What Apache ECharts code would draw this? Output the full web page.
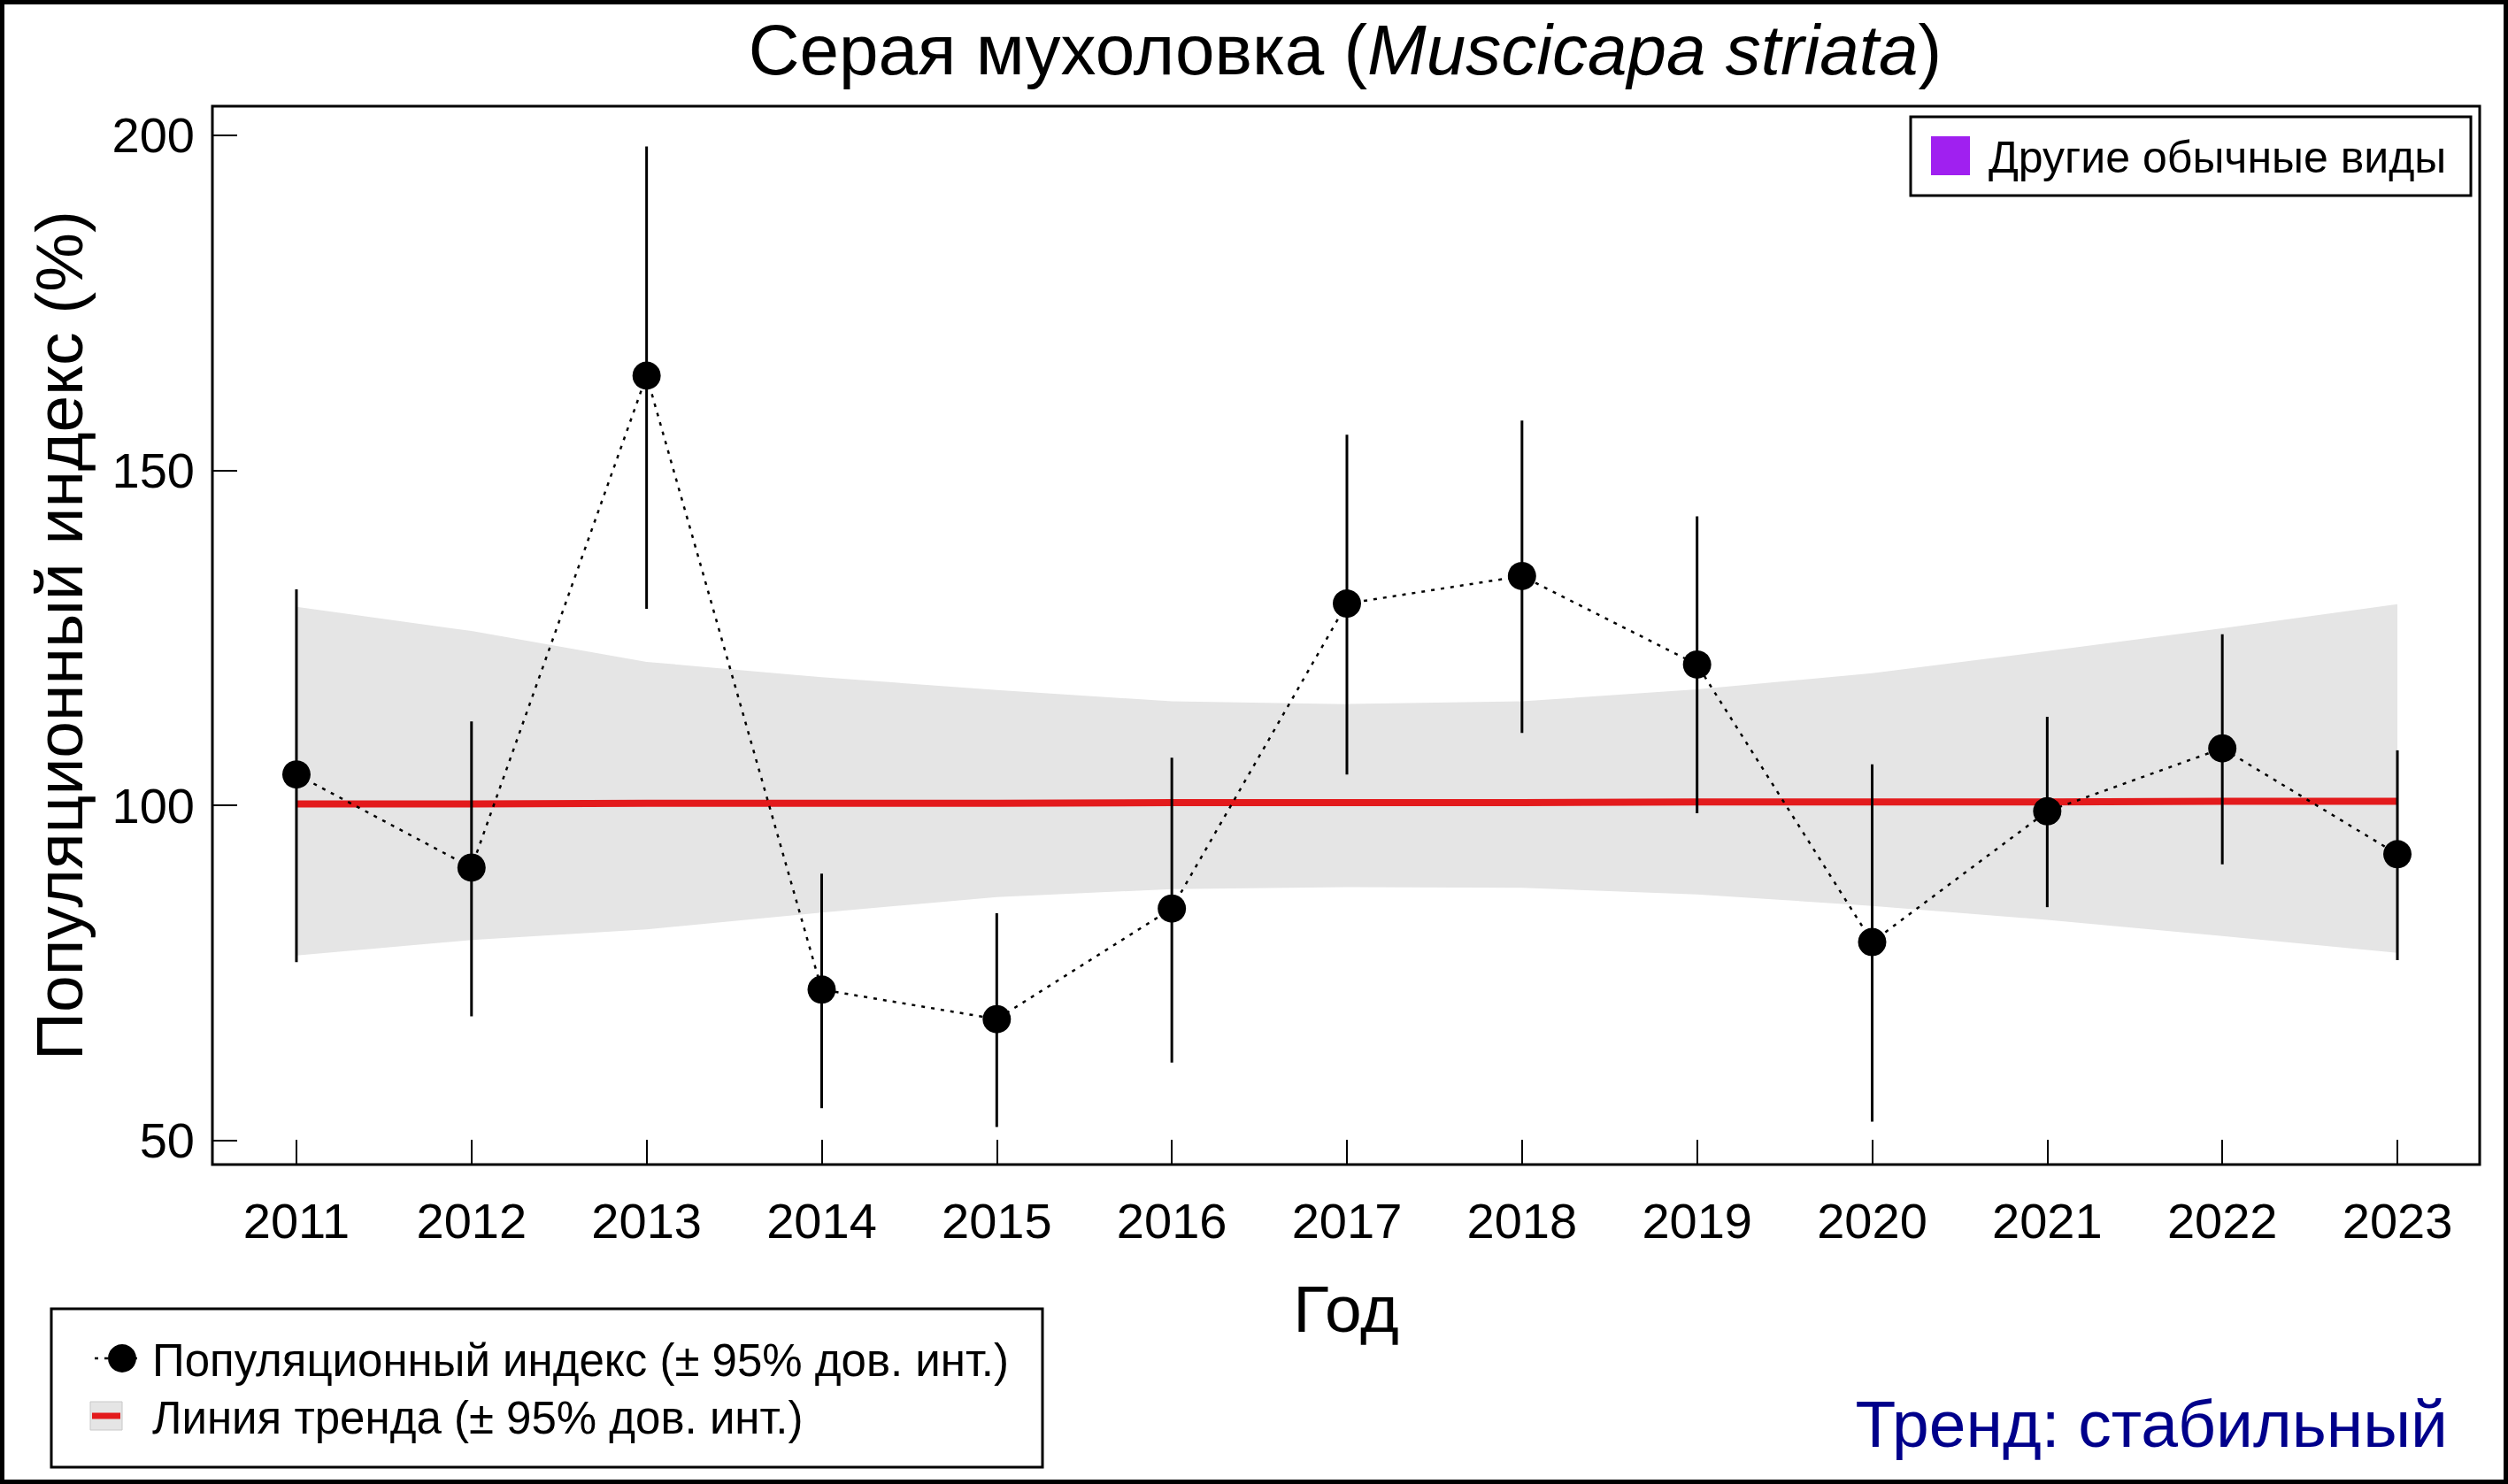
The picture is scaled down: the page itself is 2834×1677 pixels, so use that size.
<!DOCTYPE html>
<html>
<head>
<meta charset="utf-8">
<script src="https://cdn.jsdelivr.net/npm/echarts@6/dist/echarts.min.js"></script>
<style>
html,body{margin:0;padding:0;background:#fff;}
#chart{width:2834px;height:1677px;}
</style>
</head>
<body>
<div id="chart"></div>
<script>
// ---- data ----
const years = [2011, 2012, 2013, 2014, 2015, 2016, 2017, 2018, 2019, 2020, 2021, 2022, 2023];
const indexValues = [104.6, 90.7, 164.1, 72.5, 68.1, 84.6, 130.1, 134.2, 121.0, 79.6, 99.1, 108.5, 92.7];
const indexLower = [76.6, 68.5, 129.3, 54.8, 52.0, 61.6, 104.6, 110.8, 98.8, 52.8, 84.8, 91.2, 76.9];
const indexUpper = [132.2, 112.5, 198.3, 89.8, 83.9, 107.1, 155.3, 157.4, 143.1, 106.1, 113.2, 125.5, 108.2];
const trendValues = [100.2, 100.2, 100.3, 100.3, 100.3, 100.4, 100.4, 100.4, 100.5, 100.5, 100.5, 100.6, 100.6];
const trendLower = [77.6, 79.9, 81.5, 84.0, 86.3, 87.5, 87.8, 87.7, 86.7, 85.0, 82.9, 80.5, 78.0];
const trendUpper = [129.6, 126.0, 121.4, 119.1, 117.2, 115.5, 115.1, 115.5, 117.3, 119.7, 123.0, 126.4, 130.0];
const yTicks = [50, 100, 150, 200];

const FONT = '"Liberation Sans", Arial, sans-serif';

const chart = echarts.init(document.getElementById('chart'), null, {renderer: 'svg'});

const pts = (arr) => years.map((y, i) => [y, arr[i]]);

const option = {
  animation: false,
  backgroundColor: '#fff',
  grid: {left: 240, right: 32, top: 120, bottom: 361, show: true, borderColor: '#000', borderWidth: 3, backgroundColor: 'transparent'},
  xAxis: {
    type: 'value', min: 2010.52, max: 2023.47,
    name: 'Год', nameLocation: 'middle', nameGap: 125,
    nameTextStyle: {fontFamily: FONT, fontSize: 75, color: '#000'},
    axisLine: {show: false},
    splitLine: {show: false},
    axisTick: {show: true, inside: true, length: 28, lineStyle: {color: '#000', width: 2}, customValues: years},
    axisLabel: {fontFamily: FONT, fontSize: 56, color: '#000', margin: 35, customValues: years, formatter: v => String(v)}
  },
  yAxis: {
    type: 'value', min: 46.4, max: 204.3,
    name: 'Популяционный индекс (%)', nameLocation: 'middle', nameGap: 136, nameRotate: 90,
    nameTextStyle: {fontFamily: FONT, fontSize: 75, color: '#000'},
    axisLine: {show: false},
    splitLine: {show: false},
    axisTick: {show: true, inside: true, length: 28, lineStyle: {color: '#000', width: 2}, customValues: yTicks},
    axisLabel: {fontFamily: FONT, fontSize: 56, color: '#000', margin: 20, customValues: yTicks}
  },
  series: [
    {
      name: 'band', type: 'custom', z: 1, silent: true,
      data: years.map((y, i) => [y, trendLower[i], trendUpper[i]]),
      renderItem: function (params, api) {
        if (params.dataIndex !== 0) return null;
        const up = years.map((y, i) => api.coord([y, trendUpper[i]]));
        const lo = years.map((y, i) => api.coord([y, trendLower[i]])).reverse();
        return {type: 'polygon', shape: {points: up.concat(lo)}, style: {fill: '#e5e5e5', stroke: null}};
      }
    },
    {
      name: 'trend', type: 'line', z: 2, data: pts(trendValues),
      symbol: 'none', lineStyle: {color: '#e31a1c', width: 8}
    },
    {
      name: 'ci', type: 'custom', z: 3,
      data: years.map((y, i) => [y, indexLower[i], indexUpper[i]]),
      renderItem: function (params, api) {
        const a = api.coord([api.value(0), api.value(1)]);
        const b = api.coord([api.value(0), api.value(2)]);
        return {type: 'line', shape: {x1: a[0], y1: a[1], x2: b[0], y2: b[1]}, style: {stroke: '#000', lineWidth: 3}};
      }
    },
    {
      name: 'index', type: 'line', z: 4, data: pts(indexValues),
      symbol: 'circle', symbolSize: 32, itemStyle: {color: '#000'},
      lineStyle: {color: '#000', width: 2.5, type: [4, 7]}
    }
  ],
  graphic: [
    {type: 'rect', z: 100, shape: {x: 2.5, y: 2.5, width: 2829, height: 1672}, style: {fill: null, stroke: '#000', lineWidth: 5}},
    {type: 'text', z: 100, x: 1520, y: 56, style: {
      text: '{a|Серая мухоловка (}{b|Muscicapa striata}{a|)}',
      align: 'center', verticalAlign: 'middle',
      rich: {a: {fontFamily: FONT, fontSize: 80, fill: '#000'}, b: {fontFamily: FONT, fontSize: 80, fontStyle: 'italic', fill: '#000'}}
    }},
    // top-right legend
    {type: 'rect', z: 100, shape: {x: 2159, y: 132, width: 633, height: 89}, style: {fill: '#fff', stroke: '#000', lineWidth: 3}},
    {type: 'rect', z: 101, shape: {x: 2182, y: 154, width: 44, height: 44}, style: {fill: '#a020f0'}},
    {type: 'text', z: 101, x: 2247, y: 178, style: {text: 'Другие обычные виды', fontFamily: FONT, fontSize: 50, fill: '#000', verticalAlign: 'middle'}},
    // bottom-left legend
    {type: 'rect', z: 100, shape: {x: 58, y: 1479, width: 1120, height: 179}, style: {fill: '#fff', stroke: '#000', lineWidth: 3}},
    {type: 'line', z: 101, shape: {x1: 107, y1: 1535, x2: 161, y2: 1535}, style: {stroke: '#000', lineWidth: 2.5, lineDash: [4, 7]}},
    {type: 'circle', z: 102, shape: {cx: 138, cy: 1535, r: 16}, style: {fill: '#000'}},
    {type: 'text', z: 101, x: 172, y: 1537, style: {text: 'Популяционный индекс (± 95% дов. инт.)', fontFamily: FONT, fontSize: 51, fill: '#000', verticalAlign: 'middle'}},
    {type: 'rect', z: 101, shape: {x: 102, y: 1584, width: 36, height: 32}, style: {fill: '#e5e5e5', stroke: '#c8c8c8', lineWidth: 1}},
    {type: 'line', z: 102, shape: {x1: 104, y1: 1600, x2: 136, y2: 1600}, style: {stroke: '#e31a1c', lineWidth: 7}},
    {type: 'text', z: 101, x: 172, y: 1602, style: {text: 'Линия тренда (± 95% дов. инт.)', fontFamily: FONT, fontSize: 51, fill: '#000', verticalAlign: 'middle'}},
    // trend verdict
    {type: 'text', z: 101, x: 2766, y: 1609, style: {text: 'Тренд: стабильный', fontFamily: FONT, fontSize: 75, fill: '#00008b', align: 'right', verticalAlign: 'middle'}}
  ]
};
chart.setOption(option);
</script>
</body>
</html>
